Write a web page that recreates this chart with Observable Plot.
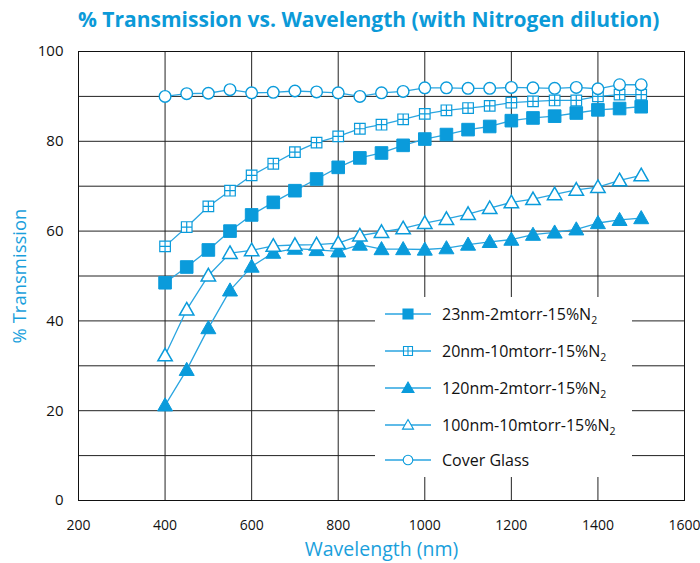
<!DOCTYPE html>
<html><head><meta charset="utf-8">
<script src="https://cdn.jsdelivr.net/npm/d3@7"></script>
<script src="https://cdn.jsdelivr.net/npm/@observablehq/plot@0.6"></script>
<style>
body{margin:0;background:#fff;font-family:"Open Sans",sans-serif;}
#wrap{position:relative;width:700px;height:563px;overflow:hidden;}
#title{position:absolute;left:0;top:0;width:700px;height:40px;box-sizing:border-box;padding-left:78px;padding-top:5px;
  font-family:"Open Sans",sans-serif;font-weight:700;font-size:21px;color:#0b9ad8;white-space:nowrap;}
#chart{position:absolute;left:0;top:40px;}
#legend{position:absolute;left:375px;top:297px;}
</style></head><body>
<div id="wrap">
<div id="title">% Transmission vs. Wavelength (with Nitrogen dilution)</div>
<div id="chart"></div>
<div id="legend"></div>
</div>
<script>
// ---- data ----
const wavelength = [400,450,500,550,600,650,700,750,800,850,900,950,1000,1050,1100,1150,1200,1250,1300,1350,1400,1450,1500];
const s23nm2mtorr  = [48.5,52.0,55.8,60.0,63.6,66.4,69.0,71.6,74.2,76.3,77.4,79.1,80.5,81.5,82.6,83.3,84.6,85.2,85.6,86.3,87.0,87.3,87.7];
const s20nm10mtorr = [56.6,60.9,65.5,69.0,72.4,75.0,77.6,79.7,81.1,82.8,83.7,84.9,86.1,86.9,87.4,87.9,88.6,88.9,89.1,89.1,90.0,90.4,90.4];
const s120nm2mtorr = [21.2,29.1,38.4,46.8,52.1,55.2,56.1,55.8,55.5,57.0,56.0,56.0,55.9,56.2,57.0,57.6,58.1,59.2,59.7,60.4,61.8,62.5,62.9];
const s100nm10mtorr= [32.3,42.5,50.1,55.1,55.7,56.7,56.9,57.0,57.3,59.0,59.8,60.6,61.8,62.7,63.8,65.1,66.4,67.1,68.2,69.2,69.8,71.3,72.4];
const coverGlass   = [90.0,90.6,90.7,91.5,90.8,90.9,91.2,91.0,90.8,90.0,90.8,91.1,91.9,91.9,91.8,91.8,92.0,91.9,91.8,92.0,91.7,92.6,92.6];
const seriesNames = ["23nm-2mtorr-15%N", "20nm-10mtorr-15%N", "120nm-2mtorr-15%N", "100nm-10mtorr-15%N", "Cover Glass"];
const xTicks = [200,400,600,800,1000,1200,1400,1600];
const xGrid = [400,600,800,1000,1200,1400];
const yTicks = [0,20,40,60,80,100];
const yGrid = [10,20,30,40,50,60,70,80,90];

// ---- symbols ----
const symSquare = {draw(c,size){const h=Math.sqrt(size/Math.PI);c.rect(-h,-h,2*h,2*h);}};
const symGrid = {draw(c,size){const h=Math.sqrt(size/Math.PI);c.rect(-h,-h,2*h,2*h);c.moveTo(-h,0);c.lineTo(h,0);c.moveTo(0,-h);c.lineTo(0,h);}};
const symTri = {draw(c,size){const h=Math.sqrt(size/Math.PI);c.moveTo(0,-h);c.lineTo(h,h*0.75);c.lineTo(-h,h*0.75);c.closePath();}};
const symCircle = {draw(c,size){const h=Math.sqrt(size/Math.PI);c.moveTo(h,0);c.arc(0,0,h,0,2*Math.PI);}};

const blue = "#0a9bdb";
const lineBlue = "#2aa5e0";
const styles = [
  {vals:s23nm2mtorr,  sym:symSquare, r:6.3, fill:blue,   stroke:blue, sw:1},
  {vals:s20nm10mtorr, sym:symGrid,   r:5.3, fill:"white",stroke:blue, sw:1.2},
  {vals:s120nm2mtorr, sym:symTri,    r:7.5, fill:blue,   stroke:blue, sw:1},
  {vals:s100nm10mtorr,sym:symTri,    r:7.2, fill:"white",stroke:blue, sw:1.5},
  {vals:coverGlass,   sym:symCircle, r:5.8, fill:"white",stroke:blue, sw:1.4}
];
const rows = styles.map((s,i)=>wavelength.map((w,j)=>({wl:w, v:s.vals[j], series:seriesNames[i]})));

const marks = [
  Plot.gridY(yGrid, {stroke:"#222", strokeOpacity:1, strokeWidth:1}),
  Plot.gridX(xGrid, {stroke:"#222", strokeOpacity:1, strokeWidth:1}),
  Plot.frame({stroke:"#111", strokeWidth:1}),
  Plot.axisX(xTicks, {tickSize:0, tickPadding:20, fontSize:14, fill:"#111", label:null, tickFormat:d=>String(d)}),
  Plot.axisY(yTicks, {tickSize:0, tickPadding:15, fontSize:15, fill:"#111", label:null, tickFormat:d=>String(d)}),
  Plot.text(["Wavelength (nm)"], {frameAnchor:"bottom", dy:55, fontSize:19.5, fill:"#1a9fdc"}),
  Plot.text(["% Transmission"], {frameAnchor:"left", textAnchor:"middle", dx:-58, rotate:-90, fontSize:18.5, fill:"#1a9fdc"})
];
styles.forEach((s,i)=>{
  marks.push(Plot.line(rows[i], {x:"wl", y:"v", stroke:lineBlue, strokeWidth:1.3}));
  marks.push(Plot.dot(rows[i], {x:"wl", y:"v", symbol:()=>s.sym, r:s.r, fill:s.fill, stroke:s.stroke, strokeWidth:s.sw}));
});

const chart = Plot.plot({
  width:700, height:523,
  marginTop:11, marginLeft:78, marginRight:16, marginBottom:63,
  style:{fontFamily:"Open Sans, sans-serif", background:"white", overflow:"visible"},
  x:{domain:[200,1600]},
  y:{domain:[0,100]},
  symbol:{type:"identity"},
  marks
});
document.getElementById("chart").appendChild(chart);

// ---- legend ----
const lw=257, lh=180;
const lsvg = d3.select("#legend").append("svg").attr("width",lw).attr("height",lh)
  .style("font-family","Open Sans, sans-serif");
lsvg.append("rect").attr("width",lw).attr("height",lh).attr("fill","white");
const legY=[17,54,91,128,163];
const legR=[5,4.5,6,5.5,4.8];
styles.forEach((s,i)=>{
  const g = lsvg.append("g").attr("transform",`translate(0,${legY[i]})`);
  g.append("line").attr("x1",10).attr("x2",56).attr("stroke",lineBlue).attr("stroke-width",1.3);
  g.append("path").attr("transform","translate(33,0)")
    .attr("d", d3.symbol(s.sym, Math.PI*legR[i]*legR[i])())
    .attr("fill",s.fill).attr("stroke",s.stroke).attr("stroke-width",1.1);
  const t = g.append("text").attr("x",67).attr("dy","0.35em").attr("font-size",16).attr("fill","#111").text(seriesNames[i]);
  if(i<4) t.append("tspan").attr("font-size",10.5).attr("dy",4).text("2");
});
</script>
</body></html>
